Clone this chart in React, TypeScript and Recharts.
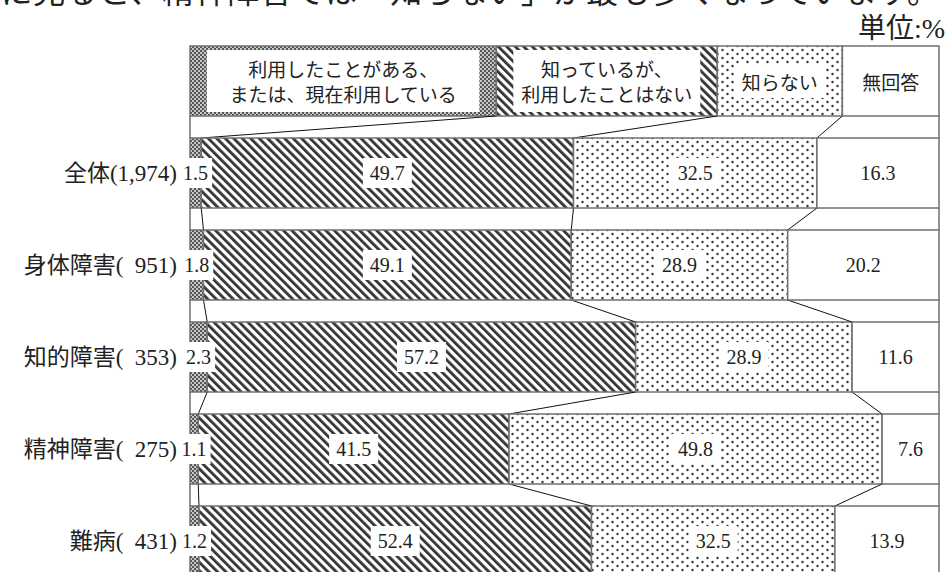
import { BarChart, Bar, XAxis, YAxis, LabelList } from "recharts";

const CATEGORIES = [
  "全体(1,974)",
  "身体障害(\u2007951)",
  "知的障害(\u2007353)",
  "精神障害(\u2007275)",
  "難病(\u2007431)",
];
const USED = [1.5, 1.8, 2.3, 1.1, 1.2];
const KNOWN = [49.7, 49.1, 57.2, 41.5, 52.4];
const UNKNOWN = [32.5, 28.9, 28.9, 49.8, 32.5];
const NO_ANSWER = [16.3, 20.2, 11.6, 7.6, 13.9];

// the legend is drawn as a first row of the chart, as in the original
const LEGEND_LINES = [
  ["利用したことがある、", "または、現在利用している"],
  ["知っているが、", "利用したことはない"],
  ["知らない"],
  ["無回答"],
];
const LEGEND_SHARE = [40.9, 29.5, 16.7, 12.9];

const KEYS = ["used", "known", "unknown", "noAnswer"];
const FILLS = ["url(#pCheck)", "url(#pDiag)", "url(#pDots)", "#ffffff"];
const EDGE = "#707070";
const FONT = "'Liberation Serif', 'Noto Sans CJK JP', serif";
const JP_FONT = "'Noto Sans CJK JP', sans-serif";

const W = 949;
const H = 600;
const MARGIN = { top: 35, right: 10, bottom: 13, left: 0 };
const BAR = 70;

type Row = { tag: string; name: string; [k: string]: any };

const rows: Row[] = [
  {
    tag: "0",
    name: "",
    used: LEGEND_SHARE[0],
    known: LEGEND_SHARE[1],
    unknown: LEGEND_SHARE[2],
    noAnswer: LEGEND_SHARE[3],
  },
  ...CATEGORIES.map((name, i) => ({
    tag: String(i + 1),
    name,
    used: USED[i],
    known: KNOWN[i],
    unknown: UNKNOWN[i],
    noAnswer: NO_ANSWER[i],
  })),
];

const BAND = (H - MARGIN.top - MARGIN.bottom) / rows.length;

function cum(row: Row, k: number) {
  let s = 0;
  for (let j = 0; j < k; j++) s += row[KEYS[j]];
  return s;
}

function makeShape(k: number) {
  return (props: any) => {
    const { x, y, width, height } = props;
    const row: Row = props.payload ?? props;
    const i = Number(row.tag);
    const ppu = width / row[KEYS[k]];
    const left = x - cum(row, k) * ppu;
    const parts = [
      <rect
        key="r"
        x={x}
        y={y}
        width={width}
        height={height}
        fill={FILLS[k]}
        stroke={EDGE}
        strokeWidth={1.5}
      />,
    ];
    if (i > 0) {
      const prev = rows[i - 1];
      const prevBottom = y - (BAND - height);
      if (k < 3) {
        parts.push(
          <line
            key="c"
            x1={left + cum(prev, k + 1) * ppu}
            y1={prevBottom}
            x2={left + cum(row, k + 1) * ppu}
            y2={y}
            stroke="#111"
            strokeWidth={1}
          />
        );
      }
      if (k === 0) {
        parts.push(
          <line key="l" x1={left} y1={prevBottom} x2={left} y2={y} stroke={EDGE} strokeWidth={1.5} />
        );
      }
      if (k === 3) {
        parts.push(
          <line
            key="e"
            x1={x + width}
            y1={prevBottom}
            x2={x + width}
            y2={y}
            stroke={EDGE}
            strokeWidth={1.5}
          />
        );
      }
    }
    return <g>{parts}</g>;
  };
}

function textWidth(s: string) {
  let w = 0;
  for (const c of s) w += c === "." ? 5 : 10;
  return w;
}

// all labels of a row are drawn from the last series so they sit on top
function RowLabels(props: any) {
  const vb = props.viewBox ?? props;
  const { x, y, width, height } = vb;
  const i = Number(props.value);
  const row = rows[i];
  if (!row) return null;
  const ppu = width / row.noAnswer;
  const left = x - cum(row, 3) * ppu;
  const cy = y + height / 2;
  const out: any[] = [];
  KEYS.forEach((key, k) => {
    const x0 = left + cum(row, k) * ppu;
    const w = row[key] * ppu;
    const cx = x0 + w / 2;
    if (i === 0) {
      const lines = LEGEND_LINES[k];
      const bh = 28 * lines.length + 6;
      if (k < 3) {
        out.push(
          <rect key={`b${k}`} x={x0 + 17} y={cy - bh / 2} width={w - 34} height={bh} fill="#fff" />
        );
      }
      lines.forEach((t, j) => {
        out.push(
          <text
            key={`t${k}-${j}`}
            x={cx}
            y={cy + (j - (lines.length - 1) / 2) * 25}
            textAnchor="middle"
            dominantBaseline="central"
            fontSize={19}
            fontFamily={JP_FONT}
            fill="#222"
          >
            {t}
          </text>
        );
      });
    } else {
      const label = row[key].toFixed(1);
      const bw = textWidth(label) + (k === 0 ? 8 : 14);
      out.push(
        <rect key={`b${k}`} x={cx - bw / 2} y={cy - 15} width={bw} height={30} fill="#fff" />
      );
      out.push(
        <text
          key={`t${k}`}
          x={cx}
          y={cy}
          textAnchor="middle"
          dominantBaseline="central"
          fontSize={20}
          fontFamily={FONT}
          fill="#222"
        >
          {label}
        </text>
      );
    }
  });
  return <g>{out}</g>;
}

function Patterns() {
  return (
    <svg width={0} height={0} style={{ position: "absolute" }}>
      <defs>
        <pattern id="pCheck" width={4} height={4} patternUnits="userSpaceOnUse">
          <rect width={4} height={4} fill="#555" />
          <rect x={0} y={0} width={2} height={2} fill="#c8c8c8" />
          <rect x={2} y={2} width={2} height={2} fill="#c8c8c8" />
        </pattern>
        <pattern
          id="pDiag"
          width={6}
          height={6}
          patternUnits="userSpaceOnUse"
          patternTransform="rotate(-45)"
        >
          <rect width={6} height={6} fill="#fff" />
          <rect x={0} y={0} width={2.8} height={6} fill="#333" />
        </pattern>
        <pattern id="pDots" width={10} height={8} patternUnits="userSpaceOnUse">
          <rect width={10} height={8} fill="#fff" />
          <circle cx={2.5} cy={2} r={1.2} fill="#333" />
          <circle cx={7.5} cy={6} r={1.2} fill="#333" />
        </pattern>
      </defs>
    </svg>
  );
}

export default function App() {
  return (
    <div
      style={{
        position: "absolute",
        left: 0,
        top: 0,
        width: W,
        height: 572,
        overflow: "hidden",
        background: "#fff",
      }}
    >
      <Patterns />
      <div
        style={{
          position: "absolute",
          left: -130,
          top: -34,
          fontSize: 32,
          letterSpacing: 0.6,
          lineHeight: "46px",
          fontFamily: JP_FONT,
          whiteSpace: "nowrap",
          color: "#222",
        }}
      >
        障害種別に見ると、精神障害では「知らない」が最も多くなっています。
      </div>
      <div
        style={{
          position: "absolute",
          right: 4,
          top: 11,
          fontSize: 28,
          lineHeight: "36px",
          fontFamily: FONT,
          color: "#222",
        }}
      >
        単位:%
      </div>
      <div style={{ position: "absolute", left: 0, top: 0 }}>
        <BarChart width={W} height={H} data={rows} layout="vertical" margin={MARGIN} barSize={BAR}>
          <XAxis type="number" domain={[0, 100]} hide />
          <YAxis
            type="category"
            dataKey="name"
            width={190}
            interval={0}
            tickLine={false}
            axisLine={false}
            tickMargin={7}
            tick={{ fontSize: 23, fill: "#222", fontFamily: FONT }}
          />
          {KEYS.map((key, k) => (
            <Bar
              key={key}
              dataKey={key}
              stackId="a"
              isAnimationActive={false}
              shape={makeShape(k)}
            >
              {k === 3 && <LabelList dataKey="tag" content={RowLabels} />}
            </Bar>
          ))}
        </BarChart>
      </div>
    </div>
  );
}
